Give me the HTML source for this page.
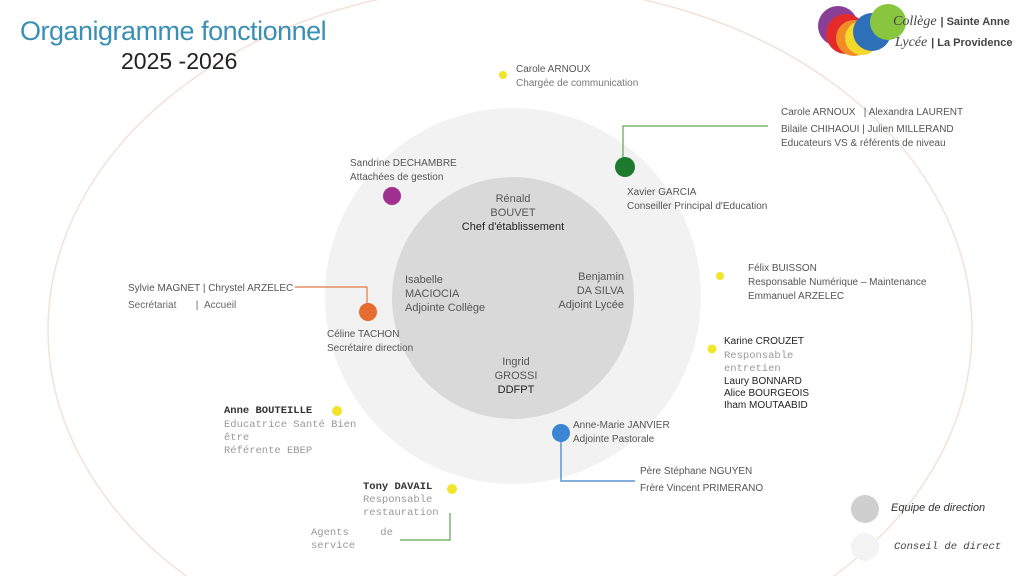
<!DOCTYPE html>
<html><head><meta charset="utf-8"><style>
body{margin:0;width:1024px;height:576px;overflow:hidden;background:#fff;font-family:"Liberation Sans",sans-serif;position:relative}
.t{position:absolute;font-size:10px;color:#666;line-height:14px;white-space:nowrap;font-family:"Liberation Sans Narrow","Liberation Sans",sans-serif}
.d{color:#555}
.m{font-family:"Liberation Mono",monospace;color:#999;font-size:10.5px;line-height:13px}
.dot{position:absolute;border-radius:50%}
</style></head><body>
<svg width="1024" height="576" style="position:absolute;left:0;top:0">
<ellipse cx="510" cy="330" rx="462" ry="345" fill="none" stroke="#f3e2d6" stroke-width="1.5"/>
<circle cx="513" cy="296" r="188" fill="#f2f2f2"/>
<circle cx="513" cy="298" r="121" fill="#d9d9d9"/>
<polyline points="768,126 623,126 623,163" fill="none" stroke="#5aa84a" stroke-width="1.2"/>
<polyline points="295,287 367,287 367,306" fill="none" stroke="#e07b45" stroke-width="1.2"/>
<polyline points="561,433 561,481 635,481" fill="none" stroke="#3b7fc6" stroke-width="1.2"/>
<polyline points="450,513 450,540 400,540" fill="none" stroke="#5aa84a" stroke-width="1.2"/>
<circle cx="392" cy="196" r="9" fill="#a0308f"/>
<circle cx="625" cy="167" r="10" fill="#1e7a2c"/>
<circle cx="368" cy="312" r="9" fill="#e56c2e"/>
<circle cx="561" cy="433" r="9" fill="#3a86d4"/>
<circle cx="503" cy="75" r="4" fill="#f0e52a"/>
<circle cx="720" cy="276" r="4" fill="#f0e52a"/>
<circle cx="712" cy="349" r="4.5" fill="#f0e52a"/>
<circle cx="337" cy="411" r="5" fill="#f0e52a"/>
<circle cx="452" cy="489" r="5" fill="#f0e52a"/>
<circle cx="865" cy="509" r="14" fill="#cfcfcf"/>
<circle cx="865" cy="547" r="14" fill="#f3f3f3"/>
<circle cx="838" cy="26" r="20" fill="#8a3f97"/>
<circle cx="846" cy="34" r="20" fill="#e52a2a"/>
<circle cx="854" cy="38" r="18" fill="#f28c28"/>
<circle cx="862" cy="38" r="17" fill="#f6d82a"/>
<circle cx="872" cy="32" r="19" fill="#2e70b8"/>
<circle cx="888" cy="22" r="18" fill="#8ac540"/>
</svg>
<div class="t" style="left:20px;top:14px;font-size:27px;line-height:34px;color:#3a8fb5;letter-spacing:-0.5px">Organigramme fonctionnel</div>
<div class="t" style="left:121px;top:47px;font-size:23px;line-height:28px;color:#222">2025 -2026</div>
<div class="t" style="left:893px;top:13px;font-size:14px;color:#444"><i style="font-family:'Liberation Serif'">Collège</i> <b style="font-size:11px">| Sainte Anne</b></div>
<div class="t" style="left:895px;top:34px;font-size:14px;color:#444"><i style="font-family:'Liberation Serif'">Lycée</i> <b style="font-size:11px">| La Providence</b></div>
<div class="t d" style="left:516px;top:63px">Carole ARNOUX<br><span style="color:#777">Chargée de communication</span></div>
<div class="t d" style="left:781px;top:106px">Carole ARNOUX &nbsp; | Alexandra LAURENT</div>
<div class="t d" style="left:781px;top:123px">Bilaile CHIHAOUI | Julien MILLERAND<br>Educateurs VS &amp; référents de niveau</div>
<div class="t d" style="left:350px;top:157px">Sandrine DECHAMBRE<br>Attachées de gestion</div>
<div class="t d" style="left:627px;top:186px">Xavier GARCIA<br>Conseiller Principal d'Education</div>
<div class="t d" style="left:459px;top:192px;text-align:center;width:108px;font-size:11px;line-height:14px">Rénald<br>BOUVET<br><span style="color:#222">Chef d'établissement</span></div>
<div class="t d" style="left:405px;top:273px;font-size:11px;line-height:14px">Isabelle<br>MACIOCIA<br>Adjointe Collège</div>
<div class="t d" style="left:540px;top:270px;font-size:11px;line-height:14px;text-align:right;width:84px">Benjamin<br>DA SILVA<br>Adjoint Lycée</div>
<div class="t d" style="left:480px;top:355px;font-size:11px;line-height:14px;text-align:center;width:72px">Ingrid<br>GROSSI<br><span style="color:#222">DDFPT</span></div>
<div class="t d" style="left:748px;top:262px">Félix BUISSON<br>Responsable Numérique – Maintenance<br>Emmanuel ARZELEC</div>
<div class="t d" style="left:128px;top:282px">Sylvie MAGNET | Chrystel ARZELEC</div>
<div class="t" style="left:128px;top:299px">Secrétariat &nbsp; &nbsp; &nbsp; | &nbsp;Accueil</div>
<div class="t d" style="left:327px;top:328px">Céline TACHON<br>Secrétaire direction</div>
<div class="t" style="left:724px;top:335px;color:#222">Karine CROUZET</div>
<div class="t m" style="left:724px;top:350px">Responsable<br>entretien</div>
<div class="t" style="left:724px;top:376px;color:#222;line-height:12px">Laury BONNARD<br>Alice BOURGEOIS<br>Iham MOUTAABID</div>
<div class="t m" style="left:224px;top:405px;color:#333;font-weight:bold">Anne BOUTEILLE</div>
<div class="t m" style="left:224px;top:419px">Educatrice Santé Bien<br>être<br>Référente EBEP</div>
<div class="t d" style="left:573px;top:419px">Anne-Marie JANVIER<br>Adjointe Pastorale</div>
<div class="t d" style="left:640px;top:465px">Père Stéphane NGUYEN</div>
<div class="t d" style="left:640px;top:482px">Frère Vincent PRIMERANO</div>
<div class="t m" style="left:363px;top:481px;color:#333;font-weight:bold">Tony DAVAIL</div>
<div class="t m" style="left:363px;top:494px">Responsable<br>restauration</div>
<div class="t m" style="left:311px;top:527px">Agents &nbsp; &nbsp; de<br>service</div>
<div class="t" style="left:891px;top:501px;color:#333;font-style:italic;font-size:11px">Equipe de direction</div>
<div class="t m" style="left:894px;top:541px;color:#444;font-style:italic">Conseil de direct</div>
</body></html>
